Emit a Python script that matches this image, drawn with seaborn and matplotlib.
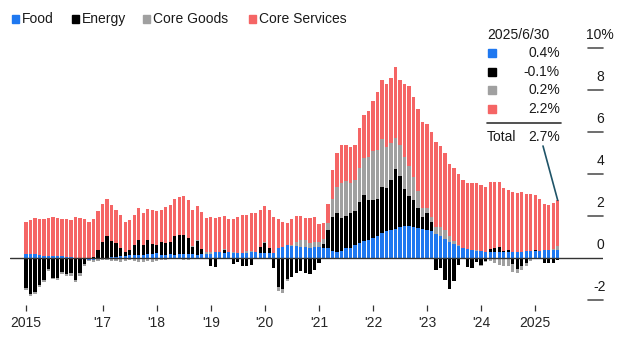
import numpy as np
import pandas as pd
import matplotlib
matplotlib.use("Agg")
import matplotlib.pyplot as plt
from matplotlib.patches import Rectangle
from matplotlib.lines import Line2D
import seaborn as sns

# Monthly contributions to US CPI inflation (percentage points), Aug 2015 - Jun 2025
months = pd.period_range("2015-08", "2025-06", freq="M")

food = [
    0.22, 0.22, 0.19, 0.18, 0.11,
    0.10, 0.10, 0.11, 0.10, 0.08, 0.04, 0.00, -0.03, -0.04, -0.06, -0.07, -0.03,
    -0.01, 0.00, 0.07, 0.07, 0.12, 0.12, 0.15, 0.17, 0.17, 0.18, 0.19, 0.22,
    0.23, 0.18, 0.18, 0.19, 0.17, 0.19, 0.19, 0.19, 0.19, 0.17, 0.19, 0.22,
    0.22, 0.28, 0.29, 0.26, 0.28, 0.26, 0.25, 0.23, 0.25, 0.29, 0.28, 0.25,
    0.25, 0.25, 0.26, 0.48, 0.55, 0.62, 0.57, 0.57, 0.54, 0.54, 0.51, 0.54,
    0.52, 0.50, 0.48, 0.33, 0.30, 0.33, 0.47, 0.51, 0.63, 0.73, 0.84, 0.87,
    0.95, 1.07, 1.20, 1.28, 1.37, 1.41, 1.48, 1.55, 1.52, 1.48, 1.44, 1.41,
    1.37, 1.29, 1.16, 1.05, 0.91, 0.78, 0.67, 0.58, 0.50, 0.45, 0.39, 0.37,
    0.35, 0.30, 0.30, 0.30, 0.29, 0.30, 0.30, 0.29, 0.31, 0.29, 0.33, 0.34,
    0.34, 0.35, 0.41, 0.38, 0.39, 0.41,
]
energy = [
    -1.43, -1.71, -1.59, -1.29, -1.05,
    -0.49, -0.94, -0.95, -0.67, -0.76, -0.71, -1.05, -0.69, -0.22, 0.00, 0.08, 0.41,
    0.76, 1.06, 0.76, 0.65, 0.39, 0.16, 0.24, 0.45, 0.71, 0.45, 0.66, 0.48,
    0.41, 0.58, 0.53, 0.59, 0.88, 0.90, 0.91, 0.77, 0.36, 0.67, 0.23, -0.02,
    -0.39, -0.40, -0.03, 0.14, -0.05, -0.27, -0.16, -0.35, -0.38, -0.34, -0.05, 0.27,
    0.48, 0.22, -0.44, -1.38, -1.47, -0.98, -0.87, -0.70, -0.60, -0.72, -0.73, -0.55,
    -0.23, 0.16, 0.86, 1.63, 1.85, 1.59, 1.55, 1.63, 1.61, 1.95, 2.16, 1.90,
    1.84, 1.74, 2.18, 2.06, 2.35, 2.83, 2.43, 1.76, 1.47, 1.30, 0.97, 0.54,
    0.77, 0.46, -0.56, -0.45, -1.03, -1.47, -1.10, -0.32, -0.04, -0.40, -0.48, -0.18,
    -0.33, -0.14, 0.15, 0.19, 0.27, 0.07, 0.08, -0.29, -0.49, -0.35, -0.23, -0.04,
    0.07, -0.01, -0.22, -0.24, -0.23, -0.06,
]
core_goods = [
    -0.08, -0.10, -0.12, -0.10, -0.10,
    -0.12, -0.06, -0.08, -0.10, -0.10, -0.12, -0.10, -0.12, -0.10, -0.08, -0.12, -0.10,
    -0.08, -0.10, -0.12, -0.12, -0.18, -0.12, -0.10, -0.14, -0.18, -0.18, -0.14, -0.18,
    -0.14, -0.08, -0.06, -0.04, 0.00, -0.02, -0.06, -0.06, 0.04, 0.02, 0.02, 0.06,
    0.06, 0.02, -0.02, 0.02, 0.04, 0.06, 0.02, 0.04, 0.10, 0.06, 0.04, 0.04,
    0.06, 0.02, -0.02, -0.18, -0.18, -0.12, 0.08, 0.22, 0.35, 0.31, 0.24, 0.24,
    0.26, 0.26, 0.34, 0.84, 1.24, 1.65, 1.65, 1.44, 1.50, 1.60, 1.79, 2.03,
    2.34, 2.34, 2.30, 1.95, 1.75, 1.50, 1.47, 1.50, 1.40, 1.10, 0.80, 0.45,
    0.27, 0.21, 0.32, 0.42, 0.42, 0.27, 0.17, 0.04, 0.00, 0.00, 0.00, 0.04,
    -0.06, -0.06, -0.14, -0.23, -0.33, -0.35, -0.37, -0.37, -0.23, -0.20, -0.12, -0.10,
    -0.02, -0.02, -0.02, 0.02, 0.06, 0.16,
]
core_services = [
    1.49, 1.59, 1.72, 1.71, 1.74,
    1.82, 1.85, 1.82, 1.77, 1.78, 1.79, 1.95, 1.94, 1.86, 1.74, 1.81, 1.82,
    1.83, 1.74, 1.69, 1.60, 1.57, 1.44, 1.41, 1.42, 1.50, 1.55, 1.49, 1.58,
    1.60, 1.52, 1.75, 1.76, 1.75, 1.83, 1.86, 1.80, 1.71, 1.64, 1.76, 1.64,
    1.71, 1.60, 1.66, 1.58, 1.53, 1.55, 1.69, 1.78, 1.73, 1.79, 1.83, 1.74,
    1.71, 1.81, 1.70, 1.38, 1.20, 1.08, 1.22, 1.21, 1.11, 1.07, 1.18, 1.17,
    0.85, 0.78, 0.92, 1.40, 1.61, 1.83, 1.73, 1.72, 1.66, 1.92, 2.01, 2.20,
    2.37, 2.75, 2.82, 3.01, 3.13, 3.36, 3.12, 3.49, 3.81, 3.82, 3.89, 4.10,
    3.99, 4.04, 4.08, 3.88, 3.70, 3.42, 3.46, 3.40, 3.24, 3.15, 3.19, 3.17,
    3.14, 3.10, 3.19, 3.14, 3.07, 2.98, 2.89, 2.87, 2.81, 2.86, 2.72, 2.70,
    2.61, 2.48, 2.19, 2.14, 2.18, 2.19,
]

series_names = ["Food", "Energy", "Core Goods", "Core Services"]
series_colors = ["#1f78f0", "#000000", "#a0a0a0", "#f56565"]
y_ticks = [-2, 0, 2, 4, 6, 8, 10]
tick_labels = ["2015", "'17", "'18", "'19", "'20", "'21", "'22", "'23", "'24", "2025"]

sns.set_style("white")
plt.rcParams["font.family"] = ["Liberation Sans", "DejaVu Sans"]
plt.rcParams["text.color"] = "#1a1a1a"

n = len(months)
idx = np.arange(n)
data = pd.DataFrame({"idx": idx, "Food": food, "Energy": energy,
                     "Core Goods": core_goods, "Core Services": core_services})

W, H = 624, 343
fig = plt.figure(figsize=(W / 100, H / 100), dpi=100)

# axes geometry in pixels
ax_left, ax_right, ax_top, ax_bottom = 10, 603, 38, 304.5
ax = fig.add_axes([ax_left / W, 1 - ax_bottom / H,
                   (ax_right - ax_left) / W, (ax_bottom - ax_top) / H])

pos_base = np.zeros(n)
neg_base = np.zeros(n)
for name, color in zip(series_names, series_colors):
    v = data[name].to_numpy()
    pos = np.where(v > 0, v, 0.0)
    neg = np.where(v < 0, v, 0.0)
    sns.barplot(x=idx, y=pos, bottom=pos_base, color=color, saturation=1,
                width=0.72, linewidth=0, errorbar=None, native_scale=True, ax=ax)
    sns.barplot(x=idx, y=neg, bottom=neg_base, color=color, saturation=1,
                width=0.72, linewidth=0, errorbar=None, native_scale=True, ax=ax)
    pos_base += pos
    neg_base += neg

ax.set_xlim(-3.55, 128.05)
ax.set_ylim(-2.2, 10.49)
for s in ax.spines.values():
    s.set_visible(False)
ax.set_xlabel("")
ax.set_ylabel("")
ax.set_yticks([])

# zero line
ax.axhline(0, color="#333333", lw=1.0, zorder=5)

# right-hand value scale: short dashes with labels above
for t in y_ticks:
    if t != 0:
        ax.plot([124.72, 128.05], [t, t], color="#555555", lw=1.2, clip_on=False)
    lab = f"{t}%" if t == 10 else f"{t}"
    ax.annotate(lab, xy=(127.39, t), xytext=(0, 13), textcoords="offset pixels",
                ha="center", va="center", fontsize=10, color="#1a1a1a",
                annotation_clip=False)

# x ticks at first month and each January
years = months.year
jan_pos = [0] + [i for i in idx if months[i].month == 1 and years[i] >= 2017]
ax.set_xticks(jan_pos)
ax.set_xticklabels(tick_labels, fontsize=10)
ax.tick_params(axis="x", length=4.5, width=0.9, color="#333333", pad=3.5, bottom=True)


def fx(px):
    return px / W


def fy(py):
    return 1 - py / H


# top legend
leg_items = [(12, 22), (72, 82), (143, 153), (249, 259)]
for (sq_x, tx), name, color in zip(leg_items, series_names, series_colors):
    fig.patches.append(Rectangle((fx(sq_x), fy(23)), 7 / W, 8 / H, color=color,
                                 transform=fig.transFigure, figure=fig))
    fig.text(fx(tx), fy(19), name, fontsize=10, va="center", ha="left")

# latest-month breakdown box
last = -1
fig.text(fx(487), fy(35), months[last].to_timestamp(how="end").strftime("%Y/%-m/%-d"),
         fontsize=10, va="center", ha="left")
for k, (name, color) in enumerate(zip(series_names, series_colors)):
    cy = 53 + k * 18.7
    fig.patches.append(Rectangle((fx(488), fy(cy + 4)), 8 / W, 8 / H, color=color,
                                 transform=fig.transFigure, figure=fig))
    fig.text(fx(560), fy(cy), f"{data[name].iloc[last]:.1f}%", fontsize=10,
             va="center", ha="right")
fig.add_artist(Line2D([fx(487), fx(561)], [fy(123), fy(123)], color="#333333",
                      lw=1.2, transform=fig.transFigure))
total = sum(data[name].iloc[last] for name in series_names)
fig.text(fx(487), fy(137), "Total", fontsize=10, va="center", ha="left")
fig.text(fx(560), fy(137), f"{total:.1f}%", fontsize=10, va="center", ha="right")

# connector from the total to the latest bar
top_last = pos_base[last]
ax.annotate("", xy=(idx[last], top_last), xytext=(fx(543), fy(146)),
            textcoords="figure fraction",
            arrowprops=dict(arrowstyle="-", color="#1f5468", lw=1.2,
                            shrinkA=0, shrinkB=0))

fig.savefig("out.png", dpi=100)
